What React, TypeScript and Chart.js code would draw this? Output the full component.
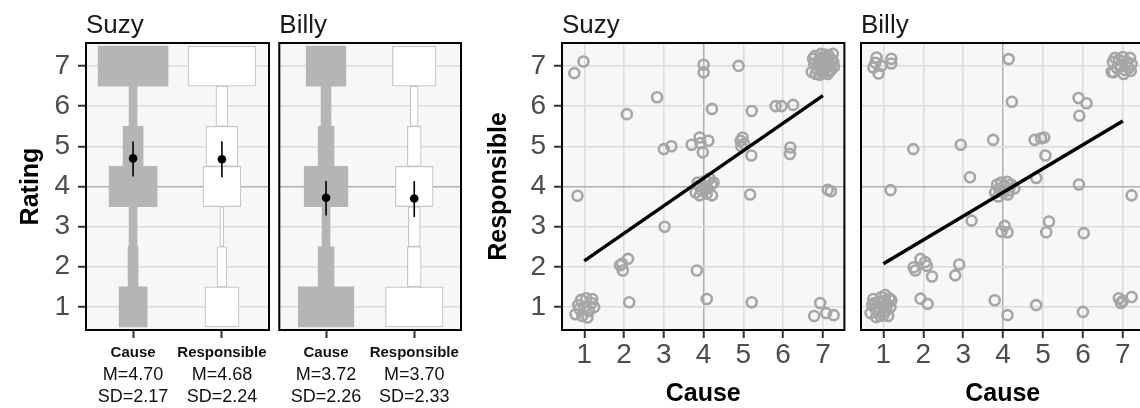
import React, { useEffect, useRef } from 'react';
import { Chart, registerables } from 'chart.js';

Chart.register(...registerables);

// ---------------- data ----------------
const RATINGS = [1, 2, 3, 4, 5, 6, 7];
const MEASURES = ['Cause', 'Responsible'];
const AXIS_TICKS = [1, 2, 3, 4, 5, 6, 7];

// number of participants giving each rating (1..7)
const SUZY_CAUSE_COUNTS = [14, 5, 4, 24, 10, 4, 35];
const SUZY_RESP_COUNTS = [17, 5, 2, 19, 16, 6, 34];
const BILLY_CAUSE_COUNTS = [28, 8, 4, 22, 8, 5, 20];
const BILLY_RESP_COUNTS = [29, 7, 6, 19, 7, 4, 22];

const SUZY_MEANS = [4.7, 4.68];
const SUZY_SDS = [2.17, 2.24];
const SUZY_CI_LOW = [4.25, 4.23];
const SUZY_CI_HIGH = [5.12, 5.13];
const BILLY_MEANS = [3.72, 3.7];
const BILLY_SDS = [2.26, 2.33];
const BILLY_CI_LOW = [3.28, 3.24];
const BILLY_CI_HIGH = [4.14, 4.14];

// jittered (cause, responsible) ratings
const SUZY_POINTS: [number, number][] = [
  [0.75, 6.82], [0.98, 7.11], [0.83, 3.77],
  [0.78, 0.82], [0.85, 1.05], [0.92, 1.18], [1.05, 1.22], [1.2, 1.2], [1.25, 1.0], [1.12, 0.9],
  [0.95, 0.78], [1.0, 1.0], [1.08, 0.74], [0.88, 0.95], [1.18, 1.1],
  [2.07, 5.8], [1.95, 2.08], [2.1, 2.2], [1.97, 1.91], [1.9, 2.04], [2.13, 1.12],
  [2.83, 6.22], [3.0, 4.93], [3.19, 5.0], [3.02, 3.0],
  [3.83, 1.91], [4.08, 1.2], [4.0, 7.03], [4.0, 6.84], [4.21, 5.93], [3.7, 5.04], [3.9, 5.22],
  [4.12, 5.14], [3.98, 4.85], [3.92, 5.08],
  [3.8, 3.85], [3.85, 4.1], [3.95, 3.9], [4.05, 4.15], [4.1, 3.95], [4.2, 4.05], [3.9, 3.78],
  [4.0, 4.0], [4.15, 4.2], [4.25, 4.1], [3.88, 4.02], [4.08, 3.82], [4.21, 3.78],
  [4.88, 7.0], [5.21, 5.88], [4.98, 5.22], [5.02, 5.06], [4.93, 5.14], [5.2, 4.77], [4.95, 5.0],
  [5.17, 3.8], [5.21, 1.12],
  [5.81, 6.0], [5.96, 6.0], [6.25, 6.03], [6.18, 4.97], [6.17, 4.81],
  [7.2, 3.88], [7.12, 3.92], [6.93, 1.1], [6.78, 0.78], [7.08, 0.85], [7.27, 0.8],
  [6.72, 6.85], [6.78, 7.05], [6.8, 7.25], [6.85, 6.92], [6.9, 7.15], [6.92, 6.78], [6.95, 7.3],
  [7.0, 7.0], [7.02, 6.88], [7.05, 7.2], [7.08, 6.95], [7.1, 7.1], [7.12, 6.8], [7.15, 7.25],
  [7.18, 7.02], [7.2, 6.9], [7.22, 7.15], [7.25, 7.3], [7.28, 6.98], [6.75, 7.18], [6.88, 7.08],
  [6.98, 6.85], [7.06, 7.28], [7.15, 6.86], [7.26, 7.1], [6.82, 6.8],
];

const BILLY_POINTS: [number, number][] = [
  [0.83, 7.21], [0.75, 6.96], [0.88, 6.81], [1.2, 7.18], [1.2, 7.06], [0.8, 7.08], [0.95, 7.0],
  [1.18, 3.91], [1.75, 4.93], [2.94, 5.04], [3.75, 5.16], [4.14, 7.17], [4.22, 6.11], [3.17, 4.23],
  [3.21, 3.15],
  [3.8, 3.85], [3.85, 4.05], [3.9, 3.95], [3.95, 4.1], [4.0, 3.85], [4.05, 4.0], [4.1, 4.12],
  [4.15, 3.9], [4.2, 4.05], [4.28, 3.95], [3.88, 3.75], [4.12, 3.8],
  [4.83, 4.21], [4.79, 5.16], [4.95, 5.2], [5.03, 5.22], [5.06, 4.77], [3.96, 2.88], [4.04, 3.02],
  [4.11, 2.86], [5.08, 2.86], [5.15, 3.13], [5.89, 6.2], [6.09, 6.07], [5.91, 5.76], [5.9, 4.05],
  [6.02, 2.84], [7.22, 3.78],
  [6.72, 6.85], [6.75, 7.1], [6.8, 7.2], [6.85, 6.95], [6.9, 7.15], [6.95, 7.0], [7.0, 7.22],
  [7.05, 6.9], [7.1, 7.1], [7.15, 6.95], [7.18, 7.2], [7.22, 7.05], [6.77, 6.84], [7.02, 6.8],
  [7.2, 6.88],
  [6.9, 1.22], [6.95, 1.1], [7.22, 1.25], [7.0, 1.15],
  [1.76, 1.99], [1.93, 2.2], [2.09, 2.03], [2.22, 1.76], [1.8, 1.91], [2.05, 2.12],
  [2.8, 1.79], [2.9, 2.06], [1.93, 1.21], [2.11, 1.08], [3.79, 1.17], [4.11, 0.8], [4.83, 1.05],
  [6.0, 0.88],
  [0.68, 0.85], [0.72, 1.05], [0.75, 1.2], [0.8, 0.95], [0.82, 0.75], [0.88, 1.12], [0.9, 0.88],
  [0.95, 1.25], [0.98, 1.0], [1.0, 0.8], [1.02, 1.15], [1.08, 0.92], [1.1, 1.08], [1.12, 0.78],
  [1.15, 1.22], [1.18, 1.0], [1.2, 1.17], [0.78, 1.1], [0.92, 0.78], [1.05, 1.3],
];

// least-squares fit lines (cause -> responsible)
const SUZY_FIT: [number, number][] = [[1, 2.15], [7, 6.26]];
const BILLY_FIT: [number, number][] = [[1, 2.08], [7, 5.63]];

// ---------------- styling ----------------
const FONT = '"Liberation Sans", Arial, Helvetica, sans-serif';
const PANEL_BG = '#f7f7f7';
const WIDTH_PER_COUNT = 0.0225; // category units per participant
const Y_MIN = 0.425;
const Y_MAX = 7.575;

const gridColor = (c: any) => (c.tick && c.tick.value === 4 ? '#b0b0b0' : '#dcdcdc');

function framePlugin(title: string) {
  return {
    id: 'frame',
    beforeDraw(chart: any) {
      const { ctx, chartArea: a } = chart;
      ctx.save();
      ctx.fillStyle = PANEL_BG;
      ctx.fillRect(a.left, a.top, a.right - a.left, a.bottom - a.top);
      ctx.restore();
    },
    afterDraw(chart: any) {
      const { ctx, chartArea: a } = chart;
      ctx.save();
      ctx.strokeStyle = '#000';
      ctx.lineWidth = 2;
      ctx.strokeRect(a.left, a.top, a.right - a.left, a.bottom - a.top);
      ctx.fillStyle = '#1a1a1a';
      ctx.font = `26px ${FONT}`;
      ctx.textBaseline = 'alphabetic';
      ctx.textAlign = 'left';
      ctx.fillText(title, a.left, 33);
      ctx.restore();
    },
  };
}

function rects(center: number, counts: number[]) {
  return RATINGS.map((r, i) => {
    const half = (counts[i] * WIDTH_PER_COUNT) / 2;
    return { y: r, x: [center - half, center + half] };
  });
}

function yAxis(showLabels: boolean, title: string, width: number, titlePad: number, min: number, max: number) {
  return {
    type: 'linear',
    position: 'left',
    min,
    max,
    offset: false,
    beginAtZero: false,
    afterBuildTicks: (s: any) => {
      s.ticks = AXIS_TICKS.map((v) => ({ value: v }));
    },
    afterFit: (s: any) => {
      s.width = width;
    },
    border: { display: false },
    grid: {
      color: gridColor,
      lineWidth: 1.5,
      drawTicks: showLabels,
      tickLength: 8,
      tickColor: '#333333',
      tickWidth: 2,
      offset: false,
    },
    ticks: {
      display: showLabels,
      font: { family: FONT, size: 28 },
      color: '#4d4d4d',
      padding: 8,
    },
    title: {
      display: showLabels,
      text: title,
      font: { family: FONT, size: 25, weight: 'bold', lineHeight: 1 },
      color: '#000',
      padding: { top: titlePad, bottom: 0 },
    },
  };
}

function barConfig(
  title: string,
  causeCounts: number[],
  respCounts: number[],
  means: number[],
  sds: number[],
  ciLow: number[],
  ciHigh: number[],
  showY: boolean,
  padLeft: number,
  padRight: number
): any {
  const errorBars = MEASURES.map((m, i) => ({
    type: 'scatter',
    label: m + ' CI',
    data: [
      { x: i + 1, y: ciLow[i] },
      { x: i + 1, y: ciHigh[i] },
    ],
    showLine: true,
    borderColor: '#000',
    borderWidth: 1.6,
    pointRadius: 0,
  }));
  return {
    type: 'scatter',
    data: {
      datasets: [
        ...errorBars,
        {
          type: 'scatter',
          label: 'Mean',
          data: means.map((m, i) => ({ x: i + 1, y: m })),
          pointRadius: 4.3,
          backgroundColor: '#000',
          borderColor: '#000',
          borderWidth: 0,
        },
        {
          type: 'bar',
          label: MEASURES[0],
          indexAxis: 'y',
          data: rects(1, causeCounts),
          backgroundColor: '#b5b5b5',
          borderColor: '#b5b5b5',
          borderWidth: 0,
          borderSkipped: false,
          grouped: false,
          barPercentage: 1,
          categoryPercentage: 1,
        },
        {
          type: 'bar',
          label: MEASURES[1],
          indexAxis: 'y',
          data: rects(2, respCounts),
          backgroundColor: '#ffffff',
          borderColor: '#c6c6c6',
          borderWidth: 1.2,
          borderSkipped: false,
          grouped: false,
          barPercentage: 1,
          categoryPercentage: 1,
        },
      ],
    },
    options: {
      responsive: false,
      animation: false,
      devicePixelRatio: 1,
      events: [],
      layout: { padding: { top: 43, left: padLeft, right: padRight, bottom: 0 } },
      plugins: { legend: { display: false }, tooltip: { enabled: false }, title: { display: false } },
      scales: {
        x: {
          type: 'linear',
          position: 'bottom',
          weight: 0,
          min: 0.47,
          max: 2.53,
          offset: false,
          afterBuildTicks: (s: any) => {
            s.ticks = [1, 2].map((v) => ({ value: v }));
          },
          afterFit: (s: any) => {
            s.height = 30;
          },
          border: { display: false },
          grid: {
            drawOnChartArea: false,
            drawTicks: true,
            tickLength: 8,
            tickColor: '#333333',
            tickWidth: 2,
            offset: false,
          },
          ticks: {
            autoSkip: false,
            maxRotation: 0,
            minRotation: 0,
            padding: 6,
            font: { family: FONT, size: 15, weight: 'bold', lineHeight: 1.2 },
            color: '#111',
            callback: (v: number) => MEASURES[Math.round(v) - 1],
          },
        },
        x2: {
          type: 'linear',
          position: 'bottom',
          axis: 'x',
          weight: 1,
          min: 0.47,
          max: 2.53,
          offset: false,
          afterBuildTicks: (s: any) => {
            s.ticks = [1, 2].map((v) => ({ value: v }));
          },
          afterFit: (s: any) => {
            s.height = 48;
          },
          border: { display: false },
          grid: { display: false, drawTicks: false, drawOnChartArea: false },
          ticks: {
            autoSkip: false,
            maxRotation: 0,
            minRotation: 0,
            padding: 4,
            font: { family: FONT, size: 18, lineHeight: '22px' },
            color: '#111',
            callback: (v: number) => {
              const i = Math.round(v) - 1;
              return [`M=${means[i].toFixed(2)}`, `SD=${sds[i].toFixed(2)}`];
            },
          },
        },
        y: yAxis(showY, 'Rating', showY ? 86 : 0, 19, Y_MIN, Y_MAX),
      },
    },
    plugins: [framePlugin(title)],
  };
}

function scatterConfig(
  title: string,
  points: [number, number][],
  fit: [number, number][],
  showY: boolean,
  padLeft: number,
  padRight: number
): any {
  return {
    type: 'scatter',
    data: {
      datasets: [
        {
          type: 'scatter',
          label: 'fit',
          data: fit.map(([x, y]) => ({ x, y })),
          showLine: true,
          borderColor: '#000',
          borderWidth: 3.4,
          pointRadius: 0,
        },
        {
          type: 'scatter',
          label: 'ratings',
          data: points.map(([x, y]) => ({ x, y })),
          pointRadius: 5,
          borderWidth: 2.6,
          borderColor: '#a6a6a6',
          backgroundColor: 'rgba(0,0,0,0)',
        },
      ],
    },
    options: {
      responsive: false,
      animation: false,
      devicePixelRatio: 1,
      events: [],
      layout: { padding: { top: 43, left: padLeft, right: padRight, bottom: 0 } },
      plugins: { legend: { display: false }, tooltip: { enabled: false }, title: { display: false } },
      scales: {
        x: {
          type: 'linear',
          position: 'bottom',
          min: 0.44,
          max: 7.54,
          offset: false,
          afterBuildTicks: (s: any) => {
            s.ticks = AXIS_TICKS.map((v) => ({ value: v }));
          },
          afterFit: (s: any) => {
            s.height = 78;
          },
          border: { display: false },
          grid: {
            color: gridColor,
            lineWidth: 1.5,
            drawTicks: true,
            tickLength: 8,
            tickColor: '#333333',
            tickWidth: 2,
          },
          ticks: {
            autoSkip: false,
            maxRotation: 0,
            minRotation: 0,
            padding: 0,
            font: { family: FONT, size: 28 },
            color: '#4d4d4d',
          },
          title: {
            display: true,
            text: 'Cause',
            font: { family: FONT, size: 25, weight: 'bold', lineHeight: 1 },
            color: '#000',
            padding: { top: 0, bottom: 1 },
          },
        },
        y: yAxis(showY, 'Responsible', showY ? 92 : 0, 17, 0.43, 7.57),
      },
    },
    plugins: [framePlugin(title)],
  };
}

function ChartCanvas({ left, width, make }: { left: number; width: number; make: () => any }) {
  const ref = useRef<HTMLCanvasElement | null>(null);
  useEffect(() => {
    if (!ref.current) return;
    const chart = new Chart(ref.current, make());
    return () => chart.destroy();
  }, []);
  return (
    <canvas
      ref={ref}
      width={width}
      height={408}
      style={{ position: 'absolute', left, top: 0, width, height: 408, display: 'block' }}
    />
  );
}

export default function App() {
  return (
    <div
      style={{
        position: 'fixed',
        left: 0,
        top: 0,
        width: 1140,
        height: 408,
        overflow: 'hidden',
        background: '#ffffff',
      }}
    >
      <ChartCanvas
        left={0}
        width={275}
        make={() =>
          barConfig('Suzy', SUZY_CAUSE_COUNTS, SUZY_RESP_COUNTS, SUZY_MEANS, SUZY_SDS, SUZY_CI_LOW, SUZY_CI_HIGH, true, 0, 6)
        }
      />
      <ChartCanvas
        left={275}
        width={195}
        make={() =>
          barConfig('Billy', BILLY_CAUSE_COUNTS, BILLY_RESP_COUNTS, BILLY_MEANS, BILLY_SDS, BILLY_CI_LOW, BILLY_CI_HIGH, false, 4, 9)
        }
      />
      <ChartCanvas left={470} width={382} make={() => scatterConfig('Suzy', SUZY_POINTS, SUZY_FIT, true, 0, 4)} />
      <ChartCanvas left={852} width={300} make={() => scatterConfig('Billy', BILLY_POINTS, BILLY_FIT, false, 9, 5)} />
    </div>
  );
}
